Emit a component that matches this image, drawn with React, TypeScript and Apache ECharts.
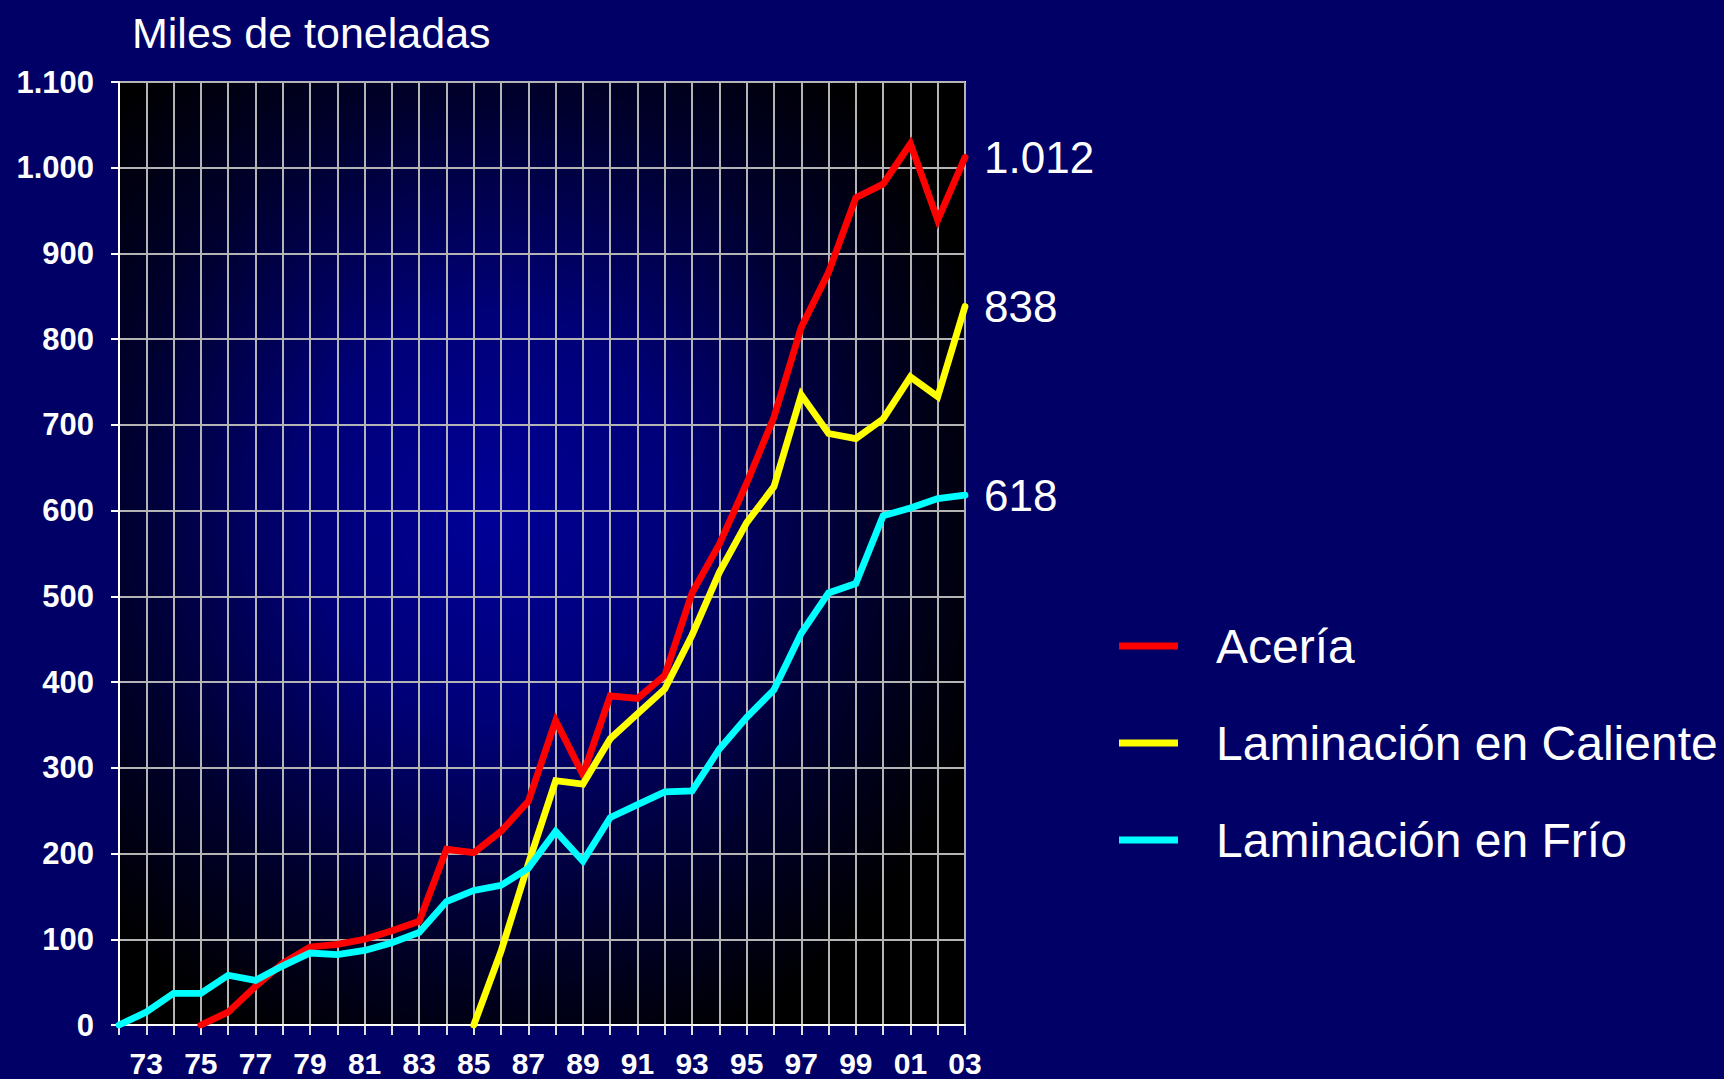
import React, { useEffect, useRef } from 'react';
import * as echarts from 'echarts';

const years = ['72','73','74','75','76','77','78','79','80','81','82','83','84','85','86','87','88','89','90','91','92','93','94','95','96','97','98','99','00','01','02','03'];

const aceria = [null, null, null, 0, 15, 45, 72, 91, 94, 100, 110, 121, 205, 201, 226, 261, 355, 292, 384, 381, 408, 504, 561, 632, 709, 814, 878, 965, 981, 1028, 939, 1012];
const caliente = [null, null, null, null, null, null, null, null, null, null, null, null, null, 0, 86, 188, 285, 281, 334, 363, 392, 455, 528, 586, 628, 735, 690, 684, 707, 756, 733, 838];
const frio = [0, 15, 37, 37, 58, 52, 69, 84, 82, 87, 96, 108, 144, 157, 163, 183, 226, 191, 242, 257, 272, 273, 322, 359, 391, 457, 504, 515, 594, 603, 614, 618];

const seriesNames = ['Acería', 'Laminación en Caliente', 'Laminación en Frío'];
const seriesColors = ['#ff0000', '#ffff00', '#00ffff'];
const titleText = 'Miles de toneladas';
const yMin = 0;
const yMax = 1100;
const yStep = 100;

const FONT = '"Liberation Sans", Arial, Helvetica, sans-serif';

function fmt(v: number): string {
  if (v == null || isNaN(v)) return '';
  const n = Math.round(v);
  if (n >= 1000) {
    return Math.floor(n / 1000) + '.' + String(n % 1000).padStart(3, '0');
  }
  return String(n);
}

export default function App() {
  const ref = useRef<HTMLDivElement>(null);

  useEffect(() => {
    const chart = echarts.init(ref.current!, null, { renderer: 'svg' });
    const seriesData = [aceria, caliente, frio];
    chart.setOption({
      animation: false,
      backgroundColor: '#000066',
      title: {
        text: titleText,
        left: 132,
        top: 11,
        padding: 0,
        textStyle: { color: '#ffffff', fontSize: 43, fontWeight: 'normal', fontFamily: FONT },
      },
      legend: {
        orient: 'vertical',
        left: 1119,
        top: 615,
        padding: 0,
        itemWidth: 59,
        itemHeight: 7,
        itemGap: 35,
        icon: 'rect',
        data: seriesNames,
        textStyle: {
          color: '#ffffff',
          fontSize: 48,
          lineHeight: 48,
          fontFamily: FONT,
          padding: [0, 0, 14, 33],
          textShadowColor: '#000000',
          textShadowOffsetX: 2,
          textShadowOffsetY: 2,
          textShadowBlur: 0,
        },
      },
      grid: {
        left: 119,
        right: 759,
        top: 82,
        bottom: 54,
        show: true,
        borderColor: '#ffffff',
        borderWidth: 2,
        backgroundColor: {
          type: 'radial',
          x: 0.44,
          y: 0.46,
          r: 0.62,
          colorStops: [
            { offset: 0, color: '#000098' },
            { offset: 0.35, color: '#000078' },
            { offset: 0.7, color: '#000030' },
            { offset: 1, color: '#000000' },
          ],
        },
      },
      xAxis: {
        type: 'category',
        data: years,
        boundaryGap: false,
        axisLine: { show: true, lineStyle: { color: '#ffffff', width: 2 } },
        axisTick: { show: true, interval: 0, length: 10, lineStyle: { color: '#e0e0e0', width: 2 } },
        axisLabel: {
          interval: (index: number) => index % 2 === 1,
          color: '#ffffff',
          fontSize: 30,
          lineHeight: 30,
          fontWeight: 'bold',
          fontFamily: FONT,
          margin: 23,
        },
        splitLine: { show: true, interval: 0, lineStyle: { color: '#b4b4b4', width: 2 } },
      },
      yAxis: {
        type: 'value',
        min: yMin,
        max: yMax,
        interval: yStep,
        axisLine: { show: true, lineStyle: { color: '#ffffff', width: 2 } },
        axisTick: { show: true, length: 8, lineStyle: { color: '#ffffff', width: 2 } },
        axisLabel: {
          formatter: (v: number) => fmt(v),
          color: '#ffffff',
          fontSize: 31,
          fontWeight: 'bold',
          fontFamily: FONT,
          margin: 25,
        },
        splitLine: { show: true, lineStyle: { color: '#b4b4b4', width: 2 } },
      },
      series: seriesNames.map((name, i) => ({
        name,
        type: 'line',
        data: seriesData[i],
        symbol: 'none',
        connectNulls: false,
        color: seriesColors[i],
        lineStyle: { color: seriesColors[i], width: 6.8, cap: 'round', join: 'miter' },
        endLabel: {
          show: true,
          formatter: (p: any) => fmt(Array.isArray(p.value) ? p.value[1] : p.value),
          color: '#ffffff',
          fontSize: 44,
          fontFamily: FONT,
          distance: 19,
        },
      })),
    });
    return () => chart.dispose();
  }, []);

  return <div ref={ref} style={{ position: 'fixed', left: 0, top: 0, width: 1724, height: 1079 }} />;
}
